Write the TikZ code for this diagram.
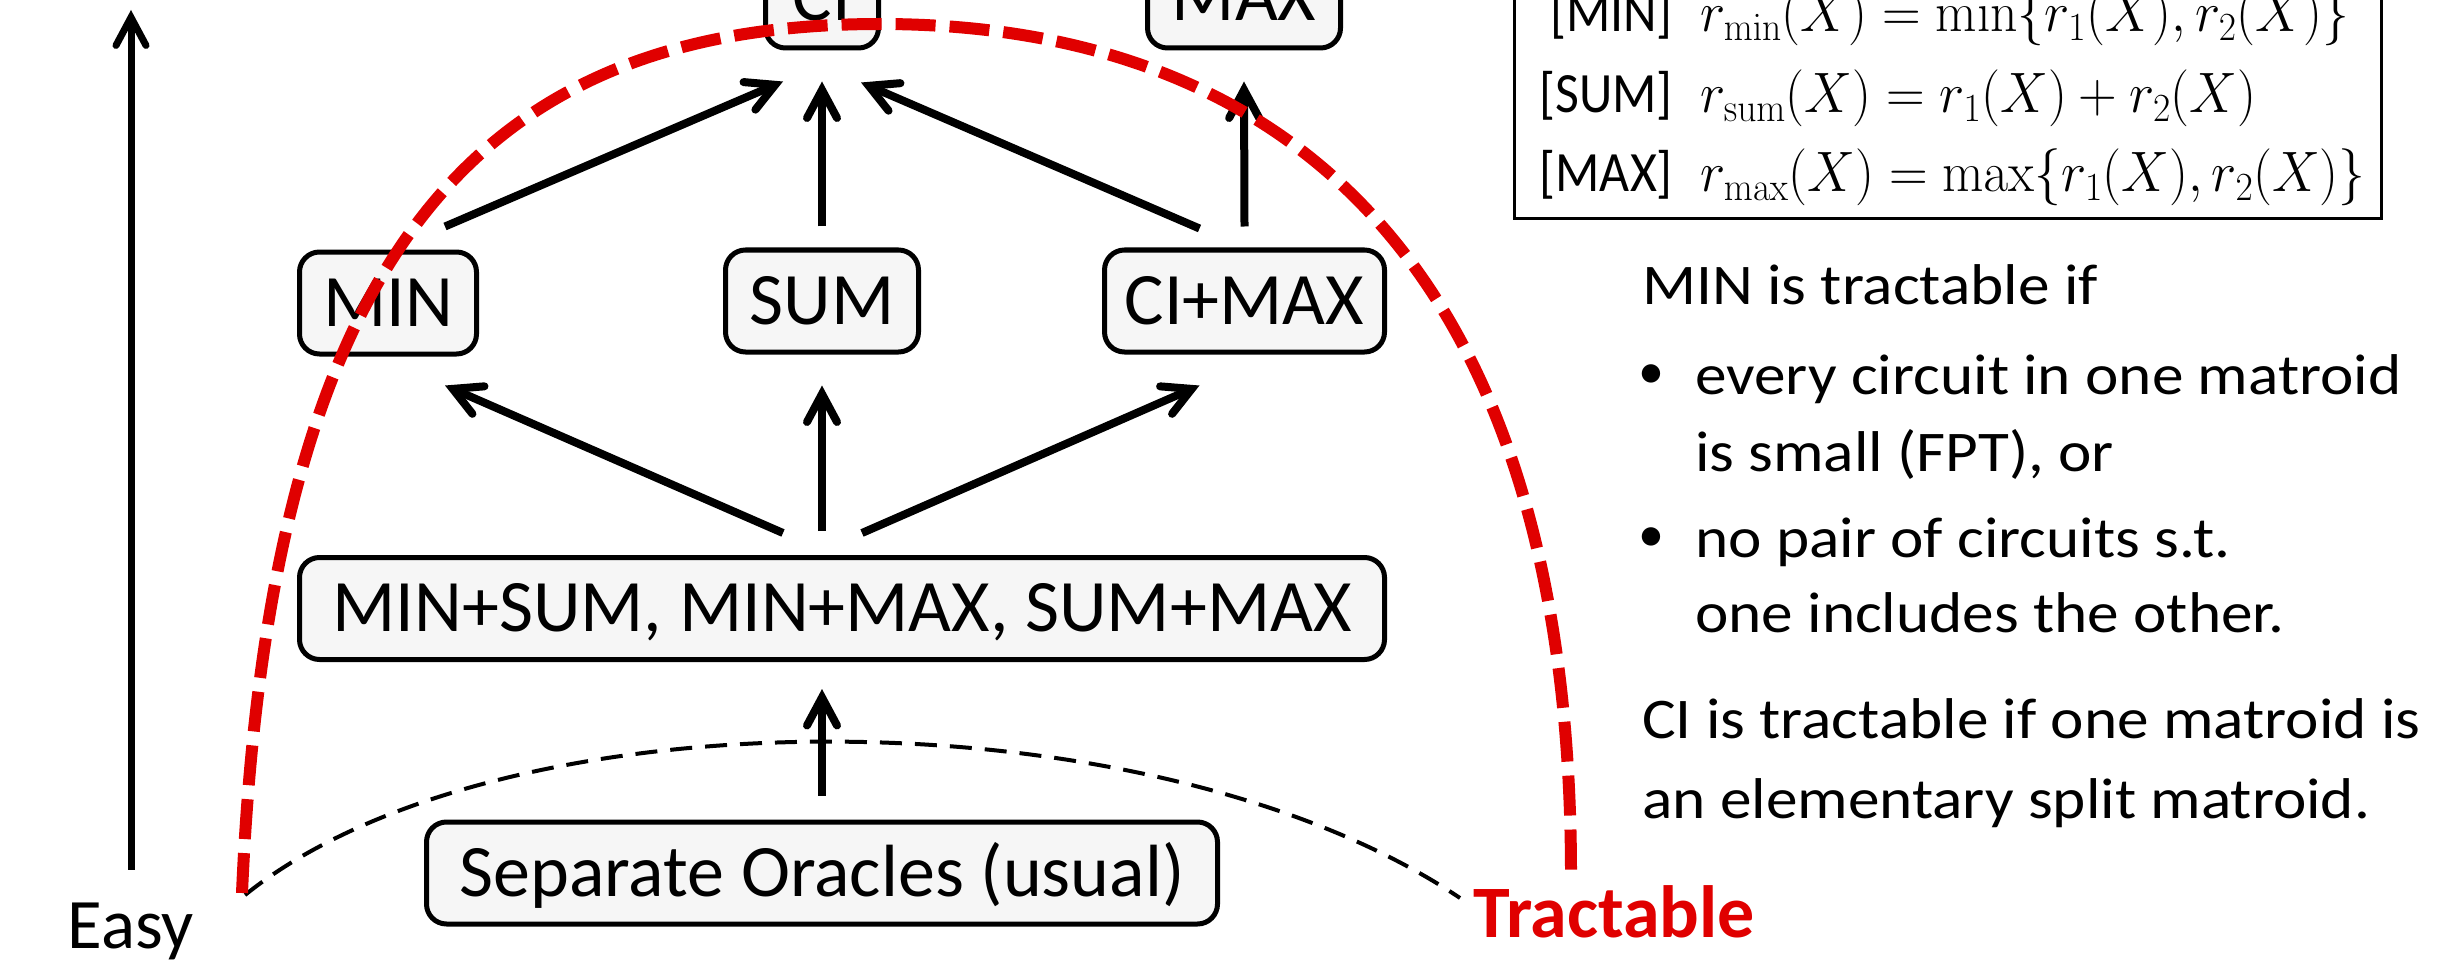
\RequirePackage{fix-cm}
\documentclass[tikz,border=0pt]{standalone}
\usepackage[no-math]{fontspec}
\setmainfont{Carlito}
\newfontfamily\widefont[FakeStretch=1.1]{Carlito}
\newfontfamily\narrowfont[FakeStretch=0.91]{Carlito}
\usetikzlibrary{arrows.meta}
\definecolor{boxfill}{RGB}{246,246,246}
\definecolor{tred}{RGB}{224,0,0}
\begin{document}
\begin{tikzpicture}[x=1pt,y=-1pt,
  box/.style={draw=black, line width=5pt, fill=boxfill, rounded corners=20pt, inner sep=0pt,
    minimum height=102pt, text height=46.5pt, text depth=0pt, font=\fontsize{74pt}{88pt}\selectfont},
  arr/.style={line width=8pt, -{Straight Barb[length=28pt,width=30pt,line cap=round]}},
  txt/.style={font=\widefont\fontsize{57.5pt}{70pt}\selectfont, anchor=base west, inner sep=0pt},
  bul/.style={font=\fontsize{52pt}{60pt}\selectfont, anchor=base west, inner sep=0pt},
  lab/.style={font=\narrowfont\fontsize{57pt}{70pt}\selectfont, anchor=base east, inner sep=0pt},
  mth/.style={font=\fontsize{57pt}{70pt}\selectfont, anchor=base west, inner sep=0pt},
]
\useasboundingbox (0,0) rectangle (2455,960);

% boxes
\node[box, minimum width=113pt] (ci) at (822,-3) {CI};
\node[box, minimum width=193pt] (max) at (1244,-3) {MAX};
\node[box, minimum width=177pt] (min) at (388,303) {MIN};
\node[box, minimum width=193pt] (sum) at (822,301) {SUM};
\node[box, minimum width=280pt] (cimax) at (1244.5,301) {CI+MAX};
\node[box, minimum width=1085pt] (big) at (842,608.5) {MIN+SUM, MIN+MAX, SUM+MAX};
\node[box, minimum width=791pt] (sep) at (822,873) {Separate Oracles (usual)};

% arrows
\draw[arr] ([xshift=57pt,yshift=23pt]min.north) -- ([xshift=-39pt,yshift=-31pt]ci.south);
\draw[arr] ([yshift=21pt]sum.north) -- ([yshift=-31pt]ci.south);
\draw[arr] ([xshift=-45pt,yshift=19pt]cimax.north) -- ([xshift=39pt,yshift=-32pt]ci.south);
\draw[arr] ([yshift=21pt]cimax.north) -- ([yshift=-31pt]max.south);
\draw[arr] ([xshift=-59pt,yshift=22pt]big.north) -- ([xshift=57pt,yshift=-29pt]min.south);
\draw[arr] ([xshift=-20pt,yshift=24pt]big.north) -- ([yshift=-31pt]sum.south);
\draw[arr] ([xshift=20pt,yshift=22pt]big.north) -- ([xshift=-45pt,yshift=-31pt]cimax.south);
\draw[arr] ([yshift=24pt]sep.north) -- ([xshift=-20pt,yshift=-27pt]big.south);

% easy axis
\node[font=\fontsize{71pt}{85pt}\selectfont, inner sep=0pt, text height=45pt, text depth=0pt] (easy) at (131,925.5) {Easy};
\coordinate (etop) at (131,10);
\draw[line width=7pt, -{Straight Barb[length=28pt,width=30pt,line cap=round]}] ([yshift=33pt]easy.north) -- (etop);

% black dashed curve
\draw[line width=4pt, dash pattern=on 22pt off 13pt] (245,895) .. controls (500,690) and (1150,690) .. (1460,898);

% red dashed curve
\draw[tred, line width=12pt, dash pattern=on 40pt off 14pt] (242,893) .. controls (270,250) and (480,24) .. (880,24) .. controls (1280,24) and (1570,260) .. (1571,872);

\node[anchor=base west, inner sep=0pt, text=tred, font=\bfseries\fontsize{74pt}{88pt}\selectfont] (tract) at (1473,937) {Tractable};

% legend
\node[draw, line width=3pt, minimum width=867pt, minimum height=318pt, inner sep=0pt] (legend) at (1948,59.5) {};
\node[lab] (l1) at (1673,32) {[MIN]};
\node[lab] (l2) at (1673,113) {[SUM]};
\node[lab] (l3) at (1673,192) {[MAX]};
\node[mth] (m1) at (1700,32) {\scalebox{0.94}[1]{$r_{\min}(X)=\min\{r_1(X),r_2(X)\}$}};
\node[mth] (m2) at (1700,113) {\scalebox{0.94}[1]{$r_{\mathrm{sum}}(X)=r_1(X)+r_2(X)$}};
\node[mth] (m3) at (1700,192) {\scalebox{0.94}[1]{$r_{\max}(X)=\max\{r_1(X),r_2(X)\}$}};

% right text
\node[txt] (t1) at (1642,304) {MIN is tractable if};
\node[bul] (b1) at (1638,388) {•};
\node[txt] (t2) at (1695,394) {every circuit in one matroid};
\node[txt] (t3) at (1695,471) {is small (FPT), or};
\node[bul] (b2) at (1638,551) {•};
\node[txt] (t4) at (1695,557) {no pair of circuits s.t.};
\node[txt] (t5) at (1695,632) {one includes the other.};
\node[txt] (t6) at (1642,738) {CI is tractable if one matroid is};
\node[txt] (t7) at (1642,818) {an elementary split matroid.};
\end{tikzpicture}
\end{document}
